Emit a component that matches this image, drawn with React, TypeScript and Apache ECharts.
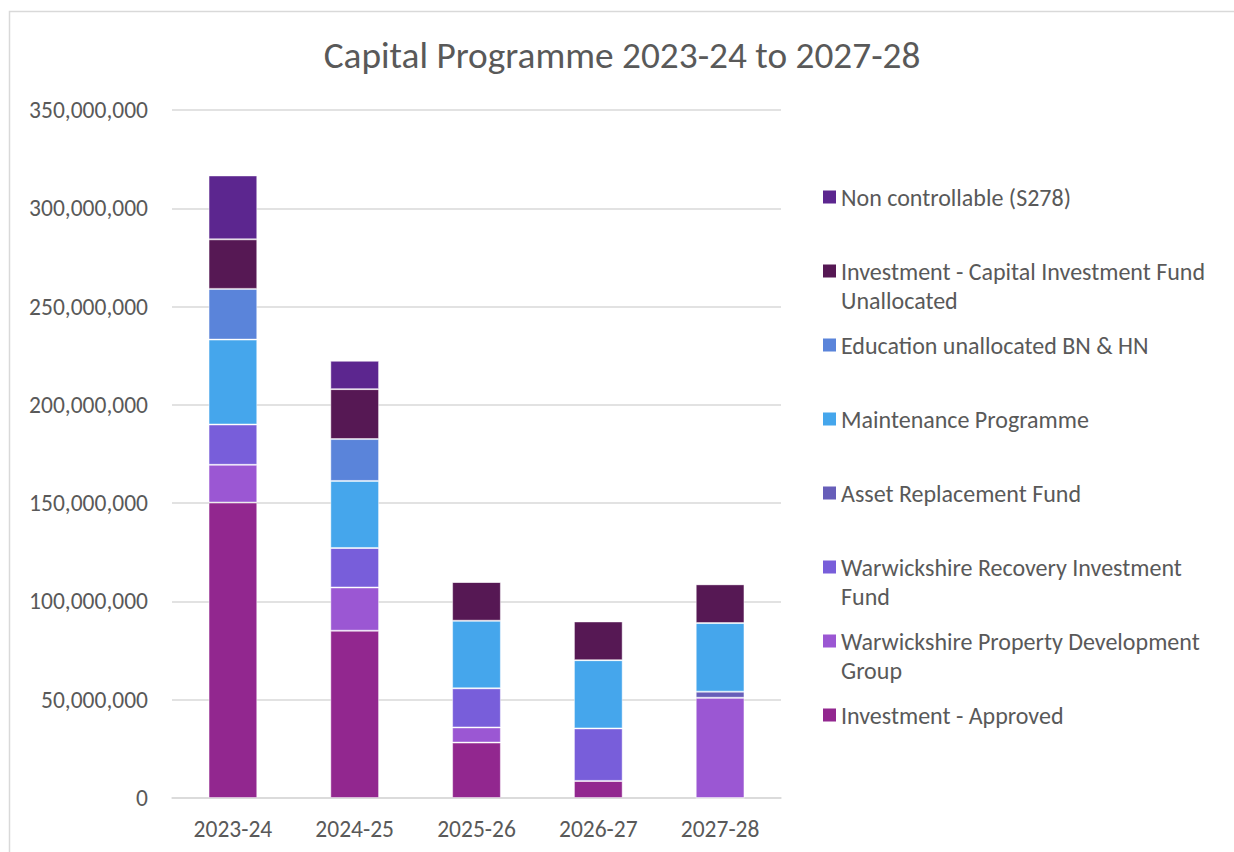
import React, { useEffect, useRef } from "react";
import * as echarts from "echarts";

const categories = ["2023-24", "2024-25", "2025-26", "2026-27", "2027-28"];

const investmentApproved = [150300000, 85100000, 28200000, 8700000, 0];
const propertyDevelopment = [19200000, 22000000, 7700000, 0, 51000000];
const recoveryInvestment = [20500000, 20100000, 19900000, 26700000, 0];
const assetReplacement = [0, 0, 0, 0, 3100000];
const maintenanceProgramme = [43200000, 34100000, 34400000, 34700000, 34900000];
const educationUnallocated = [25800000, 21300000, 0, 0, 0];
const capitalInvestmentUnallocated = [25200000, 25400000, 19700000, 19700000, 19700000];
const nonControllable = [32500000, 14400000, 0, 0, 0];

const seriesNames = [
  "Investment - Approved",
  "Warwickshire Property Development Group",
  "Warwickshire Recovery Investment Fund",
  "Asset Replacement Fund",
  "Maintenance Programme",
  "Education unallocated BN & HN",
  "Investment - Capital Investment Fund Unallocated",
  "Non controllable (S278)",
];

const legendLabels = [
  "Investment - Approved",
  "Warwickshire Property Development\nGroup",
  "Warwickshire Recovery Investment\nFund",
  "Asset Replacement Fund",
  "Maintenance Programme",
  "Education unallocated BN & HN",
  "Investment - Capital Investment Fund\nUnallocated",
  "Non controllable (S278)",
];

const seriesColors = [
  "#92278F",
  "#9B57D3",
  "#785EDA",
  "#675EB9",
  "#45A6EC",
  "#5A84DA",
  "#561854",
  "#5C268F",
];

const yTicks = [0, 50000000, 100000000, 150000000, 200000000, 250000000, 300000000, 350000000];

const FONT = "Calibri, Carlito, 'Open Sans', sans-serif";

export default function App() {
  const ref = useRef<HTMLDivElement>(null);

  useEffect(() => {
    if (!ref.current) return;
    const chart = echarts.init(ref.current, undefined, { renderer: "svg" });
    const seriesData = [
      investmentApproved,
      propertyDevelopment,
      recoveryInvestment,
      assetReplacement,
      maintenanceProgramme,
      educationUnallocated,
      capitalInvestmentUnallocated,
      nonControllable,
    ];
    const L = 29.5;
    const iconPath =
      "path://M0,0h13M0," + (L / 2 - 6.5) + "h13v13h-13ZM0," + 2 * L + "h13";

    chart.setOption({
      animation: false,
      textStyle: { fontFamily: FONT },
      title: {
        text: "Capital Programme 2023-24 to 2027-28",
        left: 622,
        top: 36,
        padding: 0,
        textAlign: "center",
        textStyle: {
          fontFamily: FONT,
          fontSize: 37.3,
          fontWeight: "normal",
          color: "#595959",
        },
      },
      graphic: [
        {
          type: "polyline",
          shape: {
            points: [
              [9.5, 852],
              [9.5, 11.5],
              [1234, 11.5],
            ],
          },
          style: { fill: "none", stroke: "#d9d9d9", lineWidth: 1.5 },
          silent: true,
        },
      ],
      grid: { left: 172, right: 453, top: 110, bottom: 54 },
      legend: {
        orient: "vertical",
        left: 823,
        top: 197 - L / 2,
        padding: 0,
        itemWidth: 13,
        itemHeight: 2 * L,
        itemGap: 74 - 2 * L,
        itemTextGap: 10,
        icon: iconPath,
        itemStyle: { borderWidth: 0 },
        data: seriesNames.slice().reverse(),
        formatter: (name: string) => {
          const lbl = legendLabels[seriesNames.indexOf(name)];
          return lbl.indexOf("\n") >= 0 ? lbl : lbl + "\n ";
        },
        textStyle: {
          fontFamily: FONT,
          fontSize: 24,
          lineHeight: L,
          color: "#595959",
        },
      },
      xAxis: {
        type: "category",
        data: categories,
        axisLine: { show: true, lineStyle: { color: "#d9d9d9", width: 1.5 } },
        axisTick: { show: false },
        axisLabel: {
          fontFamily: FONT,
          fontSize: 23.5,
          color: "#595959",
          margin: 19,
        },
      },
      yAxis: {
        type: "value",
        min: yTicks[0],
        max: yTicks[yTicks.length - 1],
        interval: yTicks[1] - yTicks[0],
        axisLine: { show: false },
        axisTick: { show: false },
        splitLine: { lineStyle: { color: "#d9d9d9", width: 1.5 } },
        axisLabel: {
          fontFamily: FONT,
          fontSize: 23.5,
          color: "#595959",
          margin: 24,
          formatter: (v: number) => v.toLocaleString("en-US"),
        },
      },
      series: seriesNames.map((name, i) => ({
        name,
        type: "bar",
        stack: "total",
        barWidth: "40%",
        data: seriesData[i],
        itemStyle: {
          color: seriesColors[i],
          borderColor: "rgba(255,255,255,0.45)",
          borderWidth: 1,
        },
      })),
    });

    return () => chart.dispose();
  }, []);

  return (
    <div
      ref={ref}
      style={{
        position: "fixed",
        left: 0,
        top: 0,
        width: 1234,
        height: 852,
        background: "#ffffff",
      }}
    />
  );
}
